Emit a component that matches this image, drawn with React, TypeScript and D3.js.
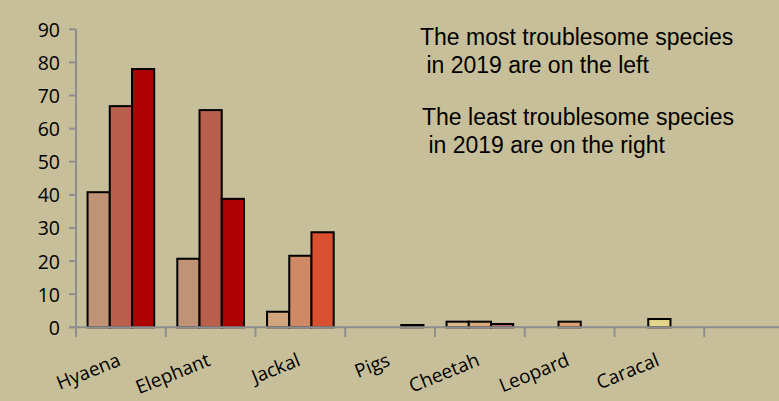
import * as React from 'react'
import * as d3 from 'd3'

// species in order of 2019 trouble, last slot is empty
const categories = ['Hyaena', 'Elephant', 'Jackal', 'Pigs', 'Cheetah', 'Leopard', 'Caracal', '']
const series = ['2017', '2018', '2019']
const values2017 = [40.8, 20.7, 4.7, 0, 1.7, 0, 0, 0]
const values2018 = [66.8, 65.6, 21.6, 0, 1.7, 1.7, 2.5, 0]
const values2019 = [78, 38.8, 28.7, 0.7, 1, 0, 0, 0]
const yTicks = [0, 10, 20, 30, 40, 50, 60, 70, 80, 90]

// fill per category, one per series
const barColors = [
    ['#c09276', '#b8604c', '#ad0000'],
    ['#c09276', '#b8604c', '#ad0000'],
    ['#cfa57d', '#cf8964', '#d9502e'],
    ['#cfa57d', '#cf8964', '#9e2f20'],
    ['#d9b88a', '#dfa878', '#b87060'],
    ['#d9b88a', '#dea070', '#b87060'],
    ['#e3d58a', '#e3d58a', '#e3d58a'],
    ['#e3d58a', '#e3d58a', '#e3d58a'],
]

const notes = [
    ['The most troublesome species', ' in 2019 are on the left'],
    ['The least troublesome species', ' in 2019 are on the right'],
]

export default function App() {
    const W = 779
    const H = 401
    const BG = '#c7bf99'
    const AXIS = '#8e8e8e'
    const LABEL_FONT = '"Open Sans", Lato, sans-serif'

    const allValues = [values2017, values2018, values2019]

    const x = d3.scaleBand<string>()
        .domain(categories.map((c, i) => i + ':' + c))
        .range([76, 76 + 8 * 89.75])
        .padding(0)
    const inner = d3.scaleBand<string>()
        .domain(series)
        .range([0, x.bandwidth()])
        .paddingInner(0)
        .paddingOuter(0.52)
    const y = d3.scaleLinear().domain([0, 90]).range([327.3, 29.3])

    const keys = x.domain()

    return <svg width={W} height={H} viewBox={`0 0 ${W} ${H}`}
        style={{ position: 'absolute', left: 0, top: 0, display: 'block' }}>
        <rect x={0} y={0} width={W} height={H} fill={BG} />

        {/* bars */}
        {
            keys.map((k, ci) =>
                <g key={k} transform={`translate(${x(k)} 0)`}>
                    {
                        series.map((s, si) => {
                            const v = allValues[si][ci]
                            if (!v) return null
                            return <rect
                                key={s}
                                x={inner(s)}
                                y={y(v)}
                                width={inner.bandwidth()}
                                height={y(0) - y(v)}
                                fill={barColors[ci][si]}
                                stroke="#000"
                                strokeWidth={2}
                            />
                        })
                    }
                </g>
            )
        }

        {/* y axis */}
        <line x1={76} x2={76} y1={y(90)} y2={337} stroke={AXIS} strokeWidth={2} />
        {
            yTicks.map(t =>
                <g key={t}>
                    <line x1={69} x2={76} y1={y(t)} y2={y(t)} stroke={AXIS} strokeWidth={2} />
                    <text x={60} y={y(t)} textAnchor="end" dominantBaseline="central"
                        fontFamily={LABEL_FONT} fontSize={19.5} fill="#000">{t}</text>
                </g>
            )
        }

        {/* x axis */}
        <line x1={69} x2={W} y1={y(0)} y2={y(0)} stroke={AXIS} strokeWidth={2} />
        {
            keys.map(k =>
                <line key={k} x1={x(k)! + x.bandwidth()} x2={x(k)! + x.bandwidth()}
                    y1={y(0)} y2={337} stroke={AXIS} strokeWidth={2} />
            )
        }
        {
            keys.map((k, i) =>
                <text key={k}
                    transform={`translate(${x(k)! + x.bandwidth() / 2 + 1} 365) rotate(-22)`}
                    textAnchor="end" fontFamily={LABEL_FONT} fontSize={19} fill="#000">
                    {categories[i]}
                </text>
            )
        }

        {/* notes */}
        {
            notes.map((lines, ni) =>
                <text key={ni} fontFamily='"Liberation Sans", Arial, sans-serif' fontSize={23}
                    fill="#000" style={{ whiteSpace: 'pre' }}>
                    {
                        lines.map((l, li) =>
                            <tspan key={li} x={420 + ni * 2} y={45 + ni * 80 + li * 28}>{l}</tspan>
                        )
                    }
                </text>
            )
        }
    </svg>
}
